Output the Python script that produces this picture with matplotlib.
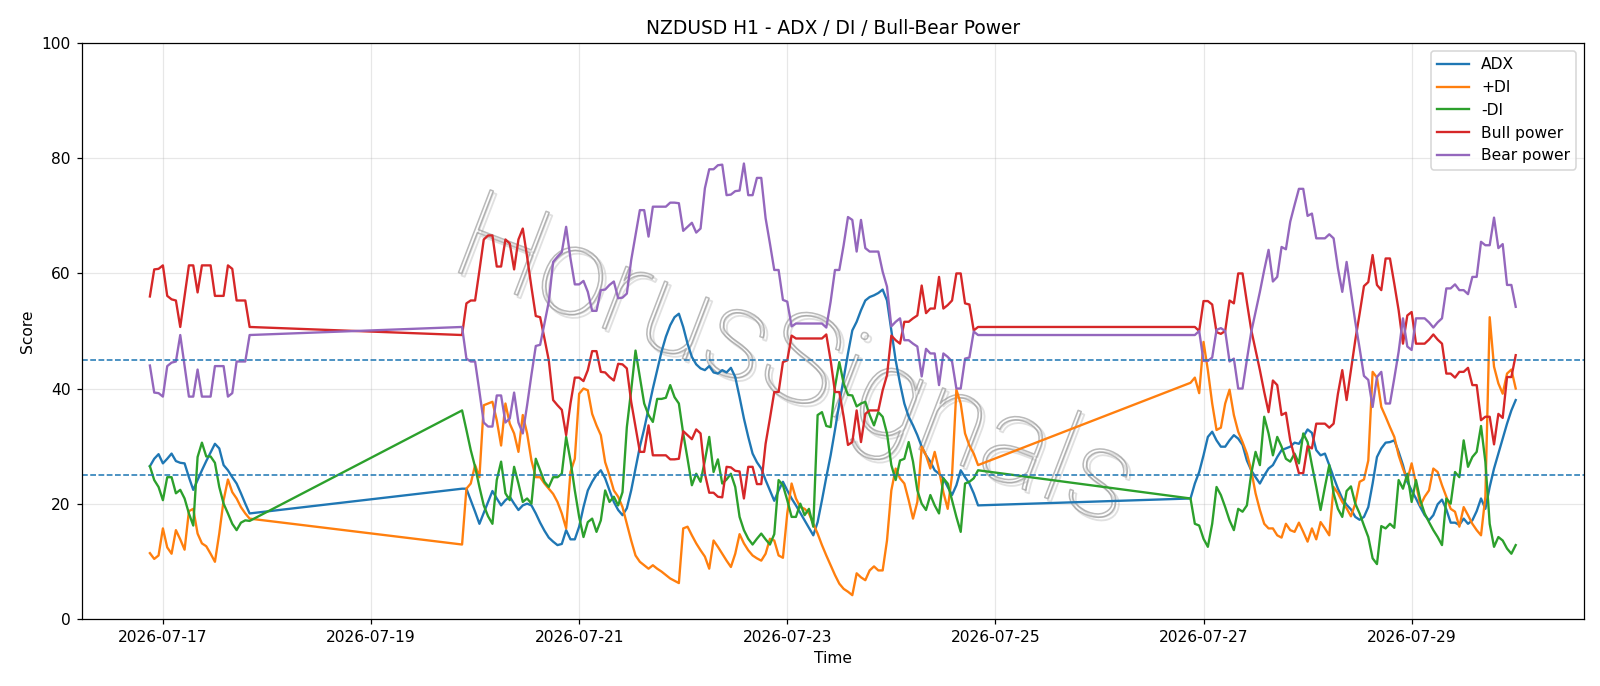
import pandas as pd
import matplotlib
matplotlib.use("Agg")
import matplotlib.pyplot as plt
import matplotlib.dates as mdates
import matplotlib.patheffects as pe

# -----------------------------
# Hourly bars in three trading blocks (weekends are just bridged by the line)
# -----------------------------
seg1 = pd.date_range("2026-07-16 21:00", "2026-07-17 20:00", freq="h")
seg2 = pd.date_range("2026-07-19 21:00", "2026-07-24 20:00", freq="h")
seg3 = pd.date_range("2026-07-26 21:00", "2026-07-30 00:00", freq="h")
times = seg1.append(seg2).append(seg3)

adx = [
    26.5, 27.8, 28.6, 27.0, 27.8, 28.7, 27.4, 27.1, 27.0, 24.6, 22.4, 24.1,
    25.8, 27.4, 28.9, 30.4, 29.6, 26.7, 25.8, 24.6, 23.5, 21.8, 20.0, 18.3,
    # week 2
    22.6, 22.6, 20.6, 18.6, 16.5, 18.4, 20.3, 22.2, 20.9, 19.7,
    20.6, 21.2, 20.0, 18.9, 19.7, 20.0, 19.7, 18.3, 16.7, 15.3,
    14.1, 13.4, 12.8, 13.0, 15.4, 13.8, 13.8, 16.0, 19.4, 22.3,
    23.8, 25.0, 25.8, 24.4, 22.3, 20.3, 18.9, 18.0, 19.2, 22.3,
    26.1, 29.9, 33.0, 36.5, 40.0, 43.2, 46.4, 49.0, 51.0, 52.4,
    53.0, 50.7, 47.8, 45.5, 44.2, 43.5, 43.2, 43.9, 42.8, 42.6,
    43.2, 42.8, 43.6, 42.0, 38.5, 34.8, 31.6, 28.7, 27.2, 26.1,
    24.1, 22.3, 20.5, 22.3, 23.8, 22.3, 20.9, 19.7, 18.4, 17.1,
    15.8, 14.5, 16.8, 20.6, 24.6, 28.4, 32.8, 37.4, 41.7, 46.1,
    50.1, 51.6, 53.6, 55.3, 55.9, 56.2, 56.6, 57.2, 55.3, 50.1,
    44.9, 40.9, 37.4, 35.1, 33.6, 31.9, 29.9, 28.4, 27.3, 25.8,
    25.2, 24.4, 22.9, 21.5, 23.2, 25.8, 24.6, 23.5, 21.8, 19.7,
    # week 3
    20.9, 23.5, 25.5, 28.4, 31.6, 32.5, 31.0, 29.9, 29.9, 31.0,
    31.9, 31.3, 30.2, 27.5, 25.8, 24.6, 23.5, 24.9, 26.1, 26.7,
    28.1, 29.3, 29.6, 29.9, 30.6, 30.4, 31.6, 32.9, 32.3, 29.3,
    28.4, 28.7, 26.7, 24.6, 22.6, 20.9, 19.8, 19.0,
    17.7, 17.2, 17.7, 19.4, 23.5, 28.1, 29.6, 30.6, 30.7, 31.0,
    29.0, 26.7, 23.8, 22.3, 20.9, 19.4, 18.0, 17.1, 18.0, 19.9,
    20.7, 19.0, 16.7, 16.7, 16.3, 17.4, 16.5, 17.1, 18.7, 20.9,
    19.1, 22.9, 26.1, 28.7, 31.3, 33.9, 36.2, 38.0,
]

plus_di = [
    11.4, 10.4, 11.0, 15.7, 12.4, 11.3, 15.4, 13.8, 12.0, 18.7, 19.1, 14.8,
    13.1, 12.6, 11.3, 9.9, 14.8, 20.6, 24.2, 22.0, 20.9, 19.4, 18.3, 17.4,
    # week 2
    12.9, 22.6, 23.5, 26.7, 24.6, 37.1, 37.4, 37.7, 34.5, 30.1,
    37.4, 33.9, 32.2, 29.0, 35.4, 32.2, 27.5, 24.6, 24.6, 23.5,
    22.6, 21.7, 20.3, 18.3, 15.7, 25.5, 27.8, 39.1, 40.0, 39.7,
    35.6, 33.6, 31.9, 27.2, 24.9, 22.3, 21.2, 19.4, 16.5, 13.6,
    11.0, 9.9, 9.3, 8.7, 9.3, 8.7, 8.2, 7.6, 7.0, 6.6,
    6.2, 15.7, 16.0, 14.5, 13.1, 11.9, 10.8, 8.7, 13.6, 12.5,
    11.3, 10.1, 9.0, 11.3, 14.7, 13.1, 11.9, 11.0, 10.5, 10.1,
    11.3, 13.9, 13.6, 11.0, 10.6, 18.3, 23.5, 20.9, 19.4, 19.1,
    18.3, 16.5, 14.8, 12.8, 11.0, 9.3, 7.6, 6.1, 5.2, 4.7,
    4.1, 7.9, 7.2, 6.7, 8.4, 9.1, 8.4, 8.4, 13.6, 22.3,
    26.1, 24.4, 23.5, 20.6, 17.4, 20.3, 29.9, 28.4, 26.1, 29.0,
    25.8, 22.0, 19.1, 24.9, 39.8, 37.4, 32.2, 30.1, 28.7, 26.7,
    # week 3
    41.0, 41.9, 39.2, 48.1, 43.2, 37.4, 32.8, 33.2, 37.4, 39.8,
    35.4, 32.5, 30.7, 28.7, 25.8, 21.8, 18.9, 16.5, 15.7, 15.7,
    14.5, 14.1, 16.5, 15.4, 15.1, 16.7, 15.1, 13.4, 15.7, 13.8,
    16.8, 15.7, 14.5, 22.9, 21.8, 20.3, 19.2, 17.8,
    20.0, 23.8, 24.2, 27.5, 42.9, 41.9, 36.8, 35.1, 33.3, 31.6,
    28.4, 26.1, 24.1, 27.0, 23.5, 19.7, 21.2, 22.3, 26.1, 25.5,
    23.2, 21.2, 19.1, 18.6, 16.0, 19.4, 18.0, 16.5, 15.4, 14.5,
    21.2, 52.4, 43.8, 40.9, 39.1, 42.6, 43.3, 40.0,
]

minus_di = [
    26.5, 24.1, 22.9, 20.6, 24.6, 24.6, 21.8, 22.4, 20.9, 18.3, 16.2, 28.1,
    30.6, 28.2, 28.2, 27.1, 22.9, 20.0, 18.3, 16.5, 15.4, 16.7, 17.1, 17.0,
    # week 2
    36.2, 32.8, 29.3, 26.4, 22.9, 19.7, 17.8, 16.5, 24.1, 27.3,
    21.8, 20.6, 26.4, 23.5, 20.3, 20.9, 20.0, 27.8, 25.8, 23.8,
    22.9, 24.6, 24.6, 25.2, 31.6, 27.5, 22.3, 17.7, 14.2, 16.8,
    17.4, 15.1, 17.1, 22.3, 20.3, 21.2, 19.7, 22.0, 33.3, 39.7,
    46.6, 42.0, 37.4, 35.4, 34.2, 38.2, 38.2, 38.4, 40.6, 38.5,
    37.4, 32.2, 27.8, 23.2, 25.2, 23.8, 27.5, 31.6, 25.5, 27.7,
    23.5, 24.2, 25.2, 22.9, 17.7, 15.4, 13.9, 12.9, 13.9, 14.8,
    13.8, 12.9, 14.7, 24.1, 23.2, 20.6, 17.7, 17.7, 20.0, 18.0,
    19.1, 16.0, 35.4, 35.9, 33.5, 33.3, 40.3, 44.6, 40.9, 38.9,
    38.8, 36.9, 37.4, 37.7, 35.4, 33.6, 35.9, 35.1, 32.2, 26.7,
    24.1, 27.5, 27.8, 30.7, 27.3, 22.3, 20.0, 18.9, 21.5, 19.7,
    18.3, 24.4, 23.5, 20.6, 17.7, 15.1, 23.5, 23.8, 24.4, 25.8,
    # week 3
    20.9, 16.5, 16.2, 13.9, 12.5, 16.5, 22.9, 21.5, 19.4, 17.1,
    15.4, 19.1, 18.6, 19.7, 25.2, 29.0, 26.7, 35.1, 32.2, 28.4,
    31.6, 29.9, 27.8, 27.3, 28.7, 27.0, 32.2, 30.7, 26.7, 22.9,
    18.9, 22.9, 26.7, 21.8, 19.1, 17.7, 22.2, 23.0,
    20.0, 18.3, 16.2, 14.2, 10.5, 9.5, 16.1, 15.7, 16.5, 15.8,
    24.1, 22.6, 25.2, 20.3, 24.1, 20.6, 18.3, 16.8, 15.4, 14.2,
    12.8, 20.9, 20.0, 25.5, 24.6, 31.0, 26.4, 28.1, 29.0, 33.5,
    27.3, 16.5, 12.5, 14.2, 13.6, 12.2, 11.3, 12.8,
]

bull_power = [
    56.0, 60.7, 60.8, 61.4, 56.1, 55.5, 55.3, 50.7, 56.0, 61.4, 61.4, 56.7,
    61.4, 61.4, 61.4, 56.1, 56.1, 56.1, 61.4, 60.8, 55.3, 55.3, 55.3, 50.7,
    # week 2
    49.3, 54.8, 55.3, 55.3, 60.5, 65.9, 66.6, 66.6, 61.2, 61.2,
    65.9, 65.2, 60.7, 65.9, 67.8, 62.9, 57.6, 52.6, 52.4, 48.7,
    44.9, 38.0, 37.1, 36.3, 31.9, 37.4, 41.9, 41.9, 41.3, 43.2,
    46.5, 46.5, 42.9, 42.8, 42.0, 41.4, 44.3, 44.2, 43.5, 37.7,
    33.3, 29.0, 29.0, 33.6, 28.4, 28.4, 28.4, 28.4, 27.7, 27.7,
    27.8, 32.6, 31.9, 31.2, 32.9, 32.2, 25.2, 21.9, 21.9, 21.2,
    21.1, 26.4, 26.3, 25.7, 25.6, 20.9, 26.4, 26.4, 23.4, 23.4,
    30.4, 34.8, 39.4, 39.4, 44.6, 44.9, 49.2, 48.7, 48.7, 48.7,
    48.7, 48.7, 48.7, 48.7, 49.4, 44.9, 39.4, 39.4, 35.1, 30.2,
    30.7, 36.2, 30.7, 35.6, 36.2, 36.2, 36.2, 39.7, 42.3, 49.2,
    48.4, 47.8, 51.6, 51.6, 52.2, 52.7, 57.9, 53.1, 53.9, 53.9,
    59.4, 53.9, 54.5, 55.3, 60.0, 60.0, 54.8, 54.6, 50.1, 50.7,
    # week 3
    50.7, 50.7, 50.0, 55.2, 55.2, 54.6, 49.8, 49.5, 50.0, 55.3,
    54.8, 60.0, 60.0, 55.0, 50.2, 46.7, 43.2, 39.4, 35.9, 41.4,
    40.6, 35.4, 35.8, 31.0, 28.1, 25.3, 25.3, 30.0, 29.6, 33.9,
    33.9, 33.9, 33.2, 33.9, 39.1, 43.2, 38.0, 43.2,
    48.4, 53.0, 57.8, 58.5, 63.2, 58.0, 57.1, 62.6, 62.6, 58.2,
    53.6, 47.8, 52.7, 53.3, 47.8, 47.8, 47.8, 48.5, 49.4, 48.5,
    47.8, 42.6, 42.6, 41.9, 42.9, 42.9, 43.6, 40.6, 40.6, 34.5,
    35.1, 35.1, 30.3, 35.6, 34.9, 42.0, 42.0, 45.8,
]

bear_power = [
    44.0, 39.3, 39.2, 38.6, 43.9, 44.5, 44.7, 49.3, 44.0, 38.6, 38.6, 43.3,
    38.6, 38.6, 38.6, 43.9, 43.9, 43.9, 38.6, 39.2, 44.7, 44.7, 44.7, 49.3,
    # week 2
    50.7, 45.2, 44.7, 44.7, 39.5, 34.1, 33.4, 33.4, 38.8, 38.8,
    34.1, 34.8, 39.3, 34.1, 32.2, 37.1, 42.4, 47.4, 47.6, 51.3,
    55.1, 62.0, 62.9, 63.7, 68.1, 62.6, 58.1, 58.1, 58.7, 56.8,
    53.5, 53.5, 57.1, 57.2, 58.0, 58.6, 55.7, 55.8, 56.5, 62.3,
    66.7, 71.0, 71.0, 66.4, 71.6, 71.6, 71.6, 71.6, 72.3, 72.3,
    72.2, 67.4, 68.1, 68.8, 67.1, 67.8, 74.8, 78.1, 78.1, 78.8,
    78.9, 73.6, 73.7, 74.3, 74.4, 79.1, 73.6, 73.6, 76.6, 76.6,
    69.6, 65.2, 60.6, 60.6, 55.4, 55.1, 50.8, 51.3, 51.3, 51.3,
    51.3, 51.3, 51.3, 51.3, 50.6, 55.1, 60.6, 60.6, 64.9, 69.8,
    69.3, 63.8, 69.3, 64.4, 63.8, 63.8, 63.8, 60.3, 57.7, 50.8,
    51.6, 52.2, 48.4, 48.4, 47.8, 47.3, 42.1, 46.9, 46.1, 46.1,
    40.6, 46.1, 45.5, 44.7, 40.0, 40.0, 45.2, 45.4, 49.9, 49.3,
    # week 3
    49.3, 49.3, 50.0, 44.8, 44.8, 45.4, 50.2, 50.5, 50.0, 44.7,
    45.2, 40.0, 40.0, 45.0, 49.8, 53.3, 56.8, 60.6, 64.1, 58.6,
    59.4, 64.6, 64.2, 69.0, 71.9, 74.7, 74.7, 70.0, 70.4, 66.1,
    66.1, 66.1, 66.8, 66.1, 60.9, 56.8, 62.0, 56.8,
    51.6, 47.0, 42.2, 41.5, 36.8, 42.0, 42.9, 37.4, 37.4, 41.8,
    46.4, 52.2, 47.3, 46.7, 52.2, 52.2, 52.2, 51.5, 50.6, 51.5,
    52.2, 57.4, 57.4, 58.1, 57.1, 57.1, 56.4, 59.4, 59.4, 65.5,
    64.9, 64.9, 69.7, 64.4, 65.1, 58.0, 58.0, 54.2,
]

series = [
    ("ADX", adx),
    ("+DI", plus_di),
    ("-DI", minus_di),
    ("Bull power", bull_power),
    ("Bear power", bear_power),
]
levels = [25, 45]

# -----------------------------
# Plot
# -----------------------------
fig, ax = plt.subplots(figsize=(1600 / 112, 686 / 112), dpi=112)
fig.subplots_adjust(left=0.051, right=0.99, bottom=0.098, top=0.937)

for name, vals in series:
    ax.plot(times, vals, label=name, linewidth=1.5)

for lvl in levels:
    ax.axhline(lvl, color="tab:blue", linestyle="--", linewidth=1.0)

# faint watermark, hollow letters with a soft shadow
ax.text(0.474, 0.44, "HorusSignals", transform=ax.transAxes,
        family=["Roboto", "DejaVu Sans"], fontweight="light",
        fontsize=80, rotation=-21, ha="center", va="center",
        color=(1, 1, 1, 0), zorder=0,
        path_effects=[
            pe.Stroke(linewidth=1.2, foreground=(0.8, 0.8, 0.8, 0.6), offset=(2, -2)),
            pe.Stroke(linewidth=1.0, foreground=(0.55, 0.55, 0.55, 0.6)),
        ])

ax.set_ylim(0, 100)
ax.xaxis.set_major_locator(mdates.DayLocator(bymonthday=range(1, 32, 2)))
ax.xaxis.set_major_formatter(mdates.DateFormatter("%Y-%m-%d"))
ax.grid(True, alpha=0.3)
ax.set_title("NZDUSD H1 - ADX / DI / Bull-Bear Power")
ax.set_xlabel("Time")
ax.set_ylabel("Score")
ax.legend(loc="upper right")

fig.savefig("out.png", dpi=112)
